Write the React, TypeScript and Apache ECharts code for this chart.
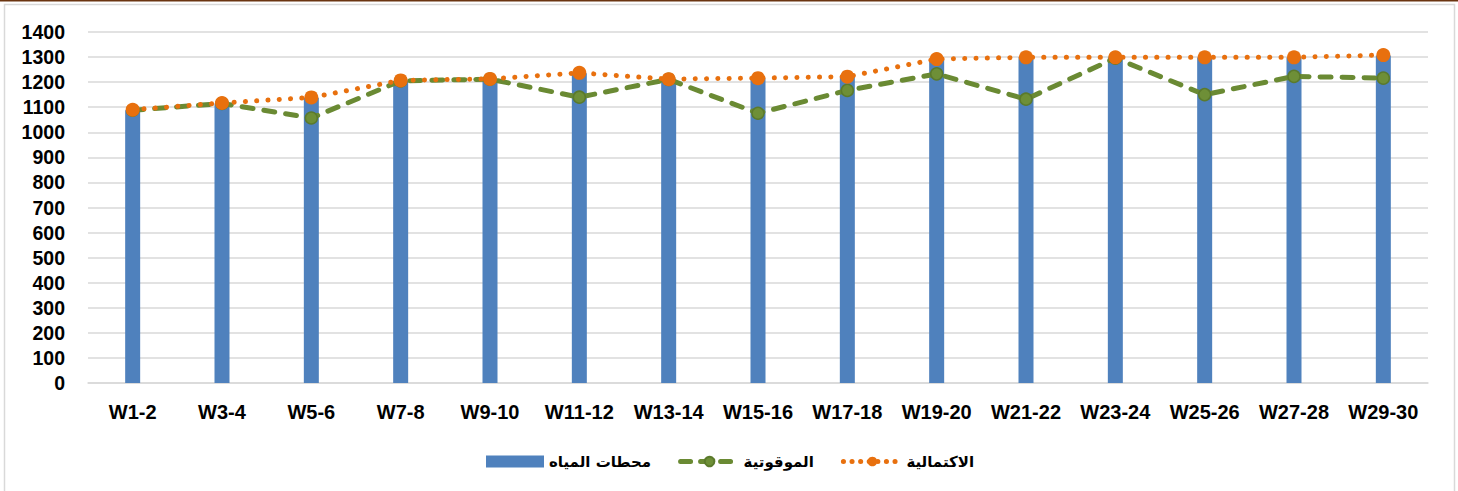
import React, { useEffect, useRef } from "react";
import * as echarts from "echarts";

const categories = ["W1-2","W3-4","W5-6","W7-8","W9-10","W11-12","W13-14","W15-16","W17-18","W19-20","W21-22","W23-24","W25-26","W27-28","W29-30"];
const stations = [1088, 1115, 1138, 1206, 1212, 1235, 1212, 1216, 1221, 1292, 1298, 1298, 1298, 1298, 1306];
const timeliness = [1088, 1115, 1057, 1205, 1212, 1140, 1211, 1076, 1167, 1233, 1132, 1296, 1150, 1223, 1216];
const completeness = [1090, 1117, 1139, 1207, 1213, 1237, 1212, 1216, 1222, 1292, 1299, 1299, 1299, 1299, 1308];

const nameBars = "محطات المياه";
const nameGreen = "الموقوتية";
const nameOrange = "الاكتمالية";

export default function App() {
  const ref = useRef<HTMLDivElement>(null);
  useEffect(() => {
    document.body.style.margin = "0";
    const chart = echarts.init(ref.current!, null, { renderer: "svg" });
    const font = "'Liberation Sans', Arial, sans-serif";
    chart.setOption({
      animation: false,
      backgroundColor: "#ffffff",
      graphic: [
        { type: "rect", shape: { x: 4.5, y: 4.5, width: 1450, height: 500 }, style: { fill: "none", stroke: "#d9d9d9", lineWidth: 1.5 } },
        { type: "line", shape: { x1: 0, y1: 0.5, x2: 1458, y2: 0.5 }, style: { stroke: "#6b3410", lineWidth: 2 } },
      ],
      grid: { left: 88, right: 30, top: 32, bottom: 108 },
      legend: {
        left: 481,
        top: 449,
        itemWidth: 58,
        itemHeight: 12,
        itemGap: 27,
        textStyle: { fontFamily: "'DejaVu Sans', sans-serif", fontWeight: "bold", fontSize: 15, color: "#000" },
        data: [
          { name: nameBars, icon: "rect" },
          { name: nameGreen, lineStyle: { width: 5, type: [10, 10], cap: "round", dashOffset: 0 } },
          { name: nameOrange, lineStyle: { width: 5, type: [0.1, 8.5], cap: "round" } },
        ],
      },
      xAxis: {
        type: "category",
        data: categories,
        axisTick: { show: false },
        axisLine: { lineStyle: { color: "#d9d9d9", width: 1.5 } },
        axisLabel: { fontFamily: font, fontWeight: "bold", fontSize: 20, color: "#000", margin: 19, interval: 0 },
      },
      yAxis: {
        type: "value",
        min: 0,
        max: 1400,
        interval: 100,
        axisLine: { show: false },
        axisTick: { show: false },
        splitLine: { lineStyle: { color: "#d9d9d9", width: 1.5 } },
        axisLabel: { fontFamily: font, fontWeight: "bold", fontSize: 19.5, color: "#000", margin: 23, formatter: (v: number) => String(v) },
      },
      series: [
        {
          name: nameBars,
          type: "bar",
          data: stations,
          barWidth: 15,
          itemStyle: { color: "#4f81bd" },
        },
        {
          name: nameGreen,
          type: "line",
          data: timeliness,
          symbol: "circle",
          symbolSize: 12,
          itemStyle: { color: "#6e8f37", borderColor: "#5b7a2c", borderWidth: 1.5 },
          lineStyle: { color: "#6a8a33", width: 5, type: [11, 11], cap: "round" },
        },
        {
          name: nameOrange,
          type: "line",
          data: completeness,
          symbol: "circle",
          symbolSize: 14,
          itemStyle: { color: "#e8700e" },
          lineStyle: { color: "#e8700e", width: 5, type: [0.1, 11.2], cap: "round" },
        },
      ],
    });
    return () => chart.dispose();
  }, []);
  return <div ref={ref} style={{ width: 1458, height: 491 }} />;
}
